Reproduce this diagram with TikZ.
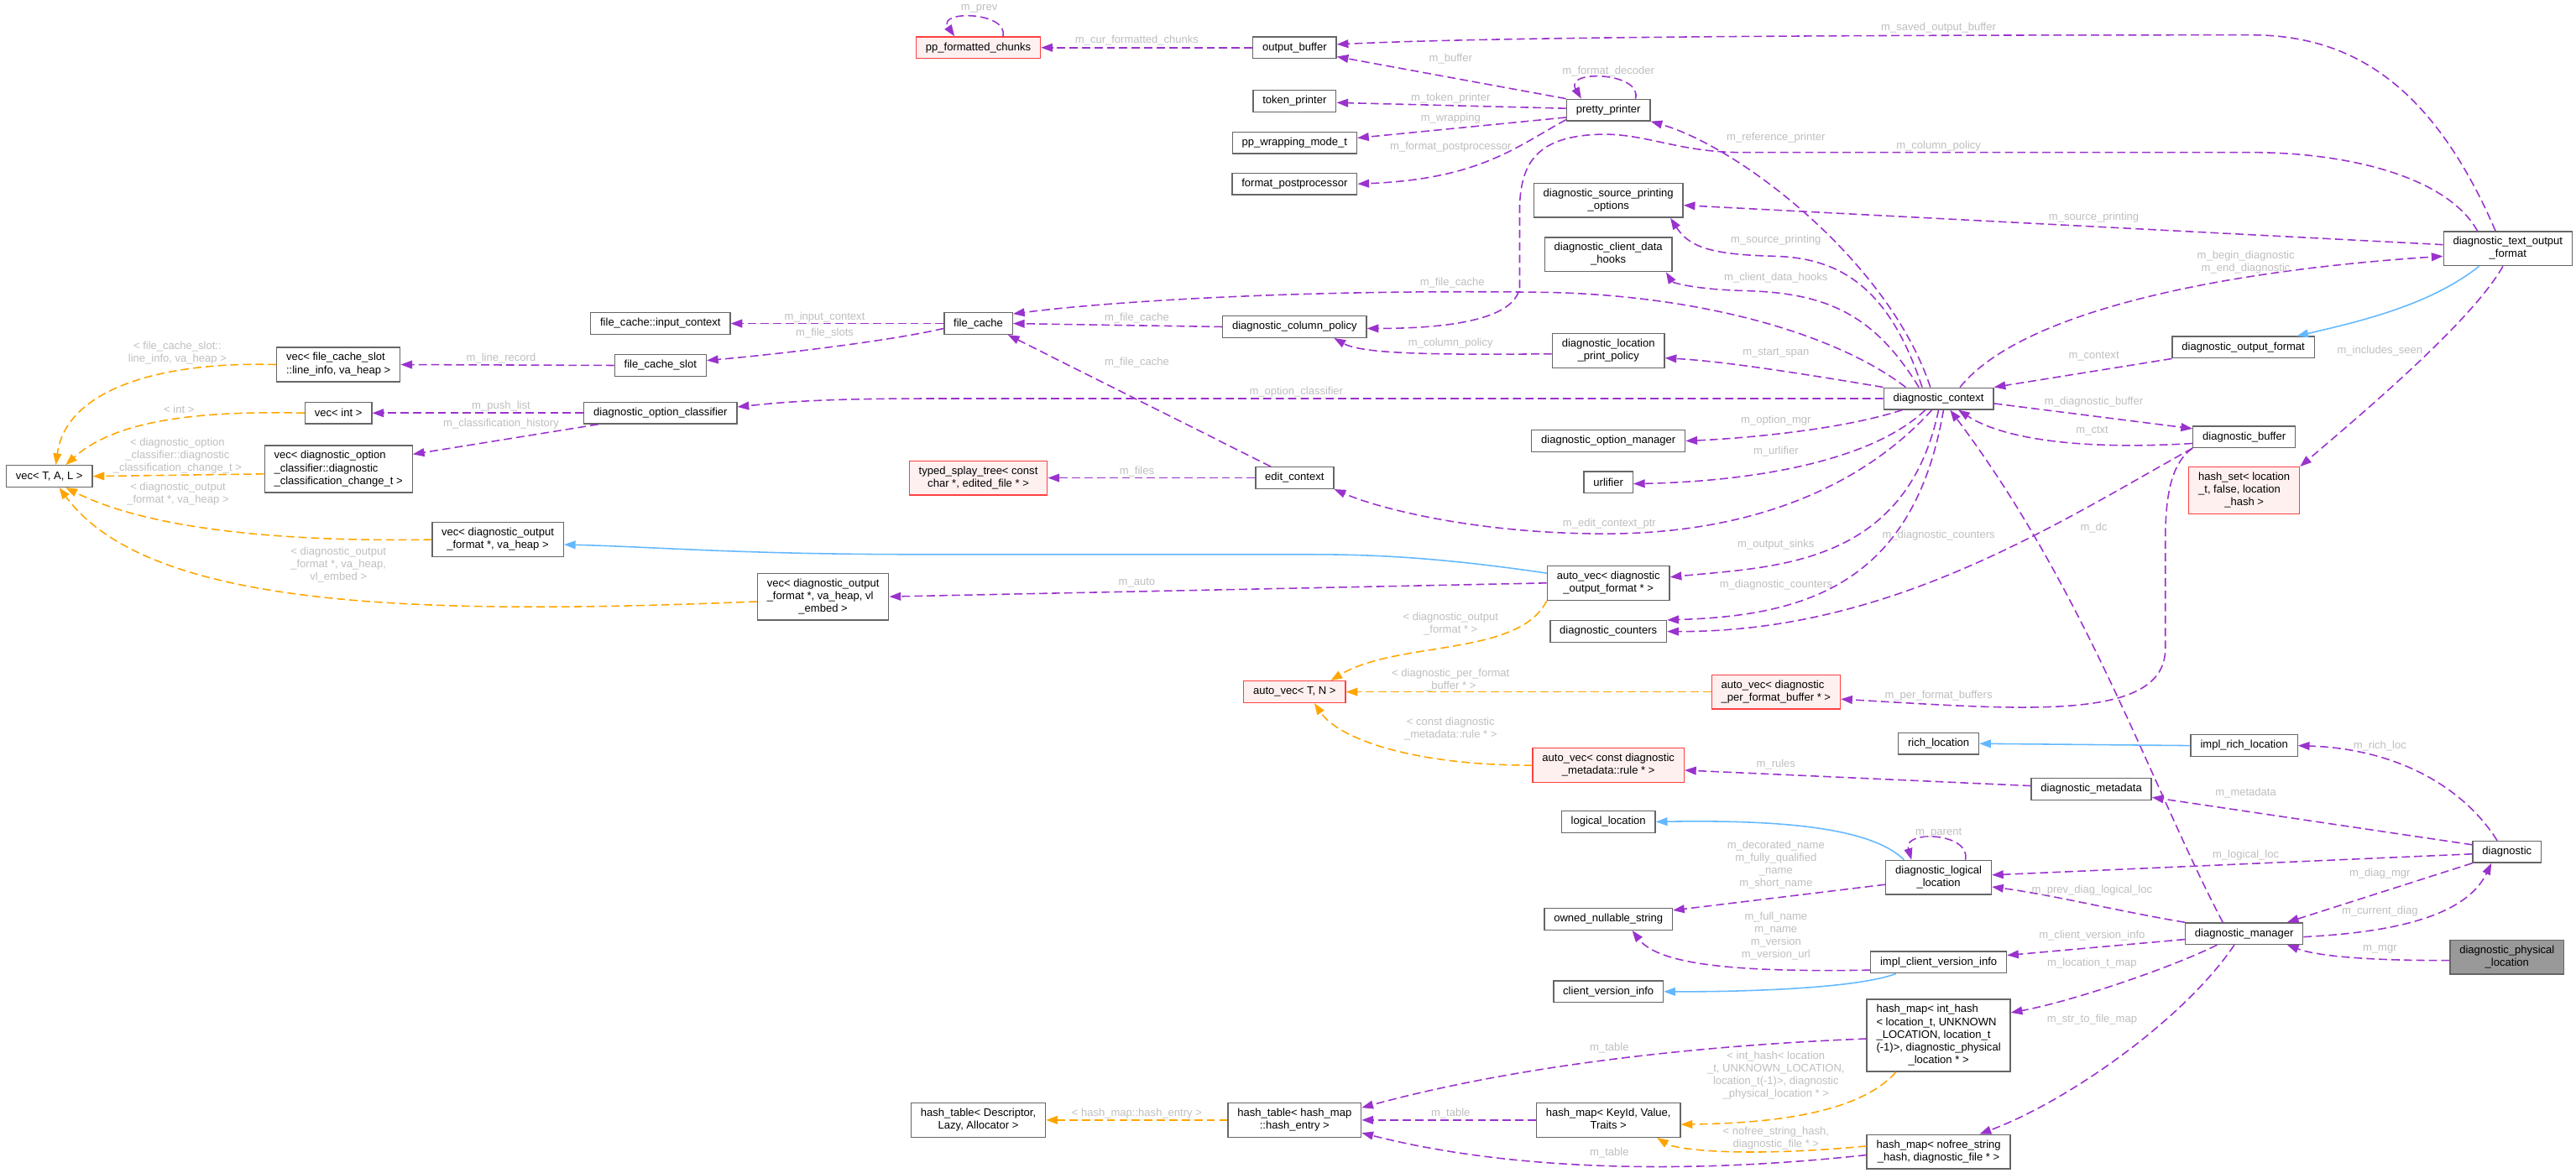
\documentclass[tikz,border=0pt]{standalone}
\usepackage{fontspec}
\setmainfont{Liberation Sans}
\usetikzlibrary{
		arrows.meta
	}
\definecolor{usepurple}{HTML}{9A32CD}
\definecolor{tmplorange}{HTML}{FFA500}
\definecolor{inheritblue}{HTML}{63B8FF}
\definecolor{boxgray}{HTML}{666666}
\definecolor{labelgray}{HTML}{BEBEBE}
\definecolor{truncred}{HTML}{FF4040}
\definecolor{truncfill}{HTML}{FFF0F0}
\definecolor{maingray}{HTML}{999999}
\newcommand{\graphfont}{\fontsize{6.66}{7.7}\selectfont}
\newcommand{\classlines}[2]{\begin{tabular}{@{}l@{}}#1\\\multicolumn{1}{@{}c@{}}{#2}\end{tabular}}
\tikzset{
		>={Triangle[length=7pt,width=5pt]},
		cls/.style={draw=boxgray, fill=white, line width=0.7pt, inner xsep=5.8pt, inner ysep=2.7pt, minimum height=13.1pt},
		trunc/.style={cls, draw=truncred, fill=truncfill},
		mainnode/.style={cls, fill=maingray},
		uses/.style={->, draw=usepurple, line width=0.8pt, dash pattern=on 5pt off 2.6pt},
		tmpl/.style={uses, draw=tmplorange},
		inherits/.style={->, draw=inheritblue, line width=0.8pt},
		elabel/.style={text=labelgray, align=center, inner sep=0pt}
	}

\begin{document}
\begin{tikzpicture}[x=1pt, y=-1pt, font=\graphfont]
		\useasboundingbox (0,0) rectangle (1568,714);
		\node[trunc] (ppchunks) at (595.5,29) {pp\_formatted\_chunks};
		\node[cls] (outbuf) at (788,29) {output\_buffer}; \node[cls] (tokprinter) at (788,61.5) {token\_printer};
		\node[cls] (wrapmode) at (788,87) {pp\_wrapping\_mode\_t}; \node[cls] (postproc) at (788,112) {format\_postprocessor};
		\node[cls] (prettyprinter) at (979,67) {pretty\_printer};
		\node[cls] (srcprintopts) at (979,122) {\classlines{diagnostic\_source\_printing}{\_options}};
		\node[cls] (clienthooks) at (979,155) {\classlines{diagnostic\_client\_data}{\_hooks}};
		\node[cls] (inputctx) at (402,197) {file\_cache::input\_context}; \node[cls] (filecache) at (595.5,197) {file\_cache};
		\node[cls] (colpolicy) at (788,199) {diagnostic\_column\_policy};
		\node[cls] (vecslot) at (206,222) {\classlines{vec< file\_cache\_slot}{::line\_info, va\_heap >}};
		\node[cls] (cacheslot) at (402,222.5) {file\_cache\_slot};
		\node[cls] (locpolicy) at (979,213.5) {\classlines{diagnostic\_location}{\_print\_policy}};
		\node[cls] (vecint) at (206,251.5) {vec< int >}; \node[cls] (optclassifier) at (402,251.5) {diagnostic\_option\_classifier};
		\node[cls] (vectal) at (30,290) {vec< T, A, L >};
		\node[cls] (vecchange) at (206,285.6) {\classlines{vec< diagnostic\_option\\\_classifier::diagnostic}{\_classification\_change\_t >}};
		\node[cls] (dcontext) at (1180,242.7) {diagnostic\_context};
		\node[cls] (optmanager) at (979,268.5) {diagnostic\_option\_manager};
		\node[trunc] (splaytree) at (595.5,291) {\classlines{typed\_splay\_tree< const}{char *, edited\_file * >}};
		\node[cls] (editctx) at (788,291) {edit\_context}; \node[cls] (urlifier) at (979,293.6) {urlifier};
		\node[cls] (diagbuffer) at (1366,266) {diagnostic\_buffer};
		\node[trunc] (hashset) at (1366,298.7) {\classlines{hash\_set< location\\\_t, false, location}{\_hash >}};
		\node[cls] (vecformat) at (303,328.6) {\classlines{vec< diagnostic\_output}{\_format *, va\_heap >}};
		\node[cls] (autovecformat) at (979,355) {\classlines{auto\_vec< diagnostic}{\_output\_format * >}};
		\node[cls] (vecembed) at (501,363.3) {\classlines{vec< diagnostic\_output\\\_format *, va\_heap, vl}{\_embed >}};
		\node[cls] (counters) at (979,384.5) {diagnostic\_counters};
		\node[trunc] (autovectn) at (788,421.3) {auto\_vec< T, N >};
		\node[trunc] (autovecbuf) at (1081,421.3) {\classlines{auto\_vec< diagnostic}{\_per\_format\_buffer * >}};
		\node[cls] (richloc) at (1180,452.8) {rich\_location}; \node[cls] (implrichloc) at (1366,454) {impl\_rich\_location};
		\node[trunc] (autovecrule) at (979,466) {\classlines{auto\_vec< const diagnostic}{\_metadata::rule * >}};
		\node[cls] (metadata) at (1273,480.5) {diagnostic\_metadata};
		\node[cls] (logloc) at (979,500.4) {logical\_location};
		\node[cls] (diagnostic) at (1526,518.7) {diagnostic};
		\node[cls] (diaglogloc) at (1180,534.3) {\classlines{diagnostic\_logical}{\_location}};
		\node[cls] (nullstring) at (979,559.7) {owned\_nullable\_string};
		\node[cls] (diagmanager) at (1366,568.5) {diagnostic\_manager};
		\node[mainnode] (physloc) at (1526,582.8) {\classlines{diagnostic\_physical}{\_location}};
		\node[cls] (implversion) at (1180,586) {impl\_client\_version\_info};
		\node[cls] (versioninfo) at (979,603.8) {client\_version\_info};
		\node[cls] (maplocation) at (1180,630.5) {\classlines{hash\_map< int\_hash\\< location\_t, UNKNOWN\\\_LOCATION, location\_t\\(-1)>, diagnostic\_physical}{\_location * >}};
		\node[cls] (tabledesc) at (595.5,682) {\classlines{hash\_table< Descriptor,}{Lazy, Allocator >}};
		\node[cls] (tableentry) at (788,682) {\classlines{hash\_table< hash\_map}{::hash\_entry >}};
		\node[cls] (mapkey) at (979,682) {\classlines{hash\_map< KeyId, Value,}{Traits >}};
		\node[cls] (mapfile) at (1180,701.3) {\classlines{hash\_map< nofree\_string}{\_hash, diagnostic\_file * >}};
		\node[cls] (textformat) at (1526.5,151.4) {\classlines{diagnostic\_text\_output}{\_format}};
		\node[cls] (outformat) at (1365.5,211.5) {diagnostic\_output\_format};

		\draw[uses] ([xshift=15]ppchunks.north) .. controls (614,7) and (570,6) .. ([xshift=-14.5]ppchunks.north);
		\draw[uses] (outbuf) -- (ppchunks);
		\draw[uses] ([xshift=-7.5]textformat.north) .. controls (1480,50) and (1430,21.3) .. (1370,21.3) .. controls (1000,21.3) and (880,24) .. ([yshift=2]outbuf.east);
		\draw[uses] (prettyprinter.north west) -- ([yshift=1.4]outbuf.south east);
		\draw[uses] ([yshift=1]prettyprinter.west) -- ([yshift=-1]tokprinter.east);
		\draw[uses] ([yshift=-4.5]prettyprinter.west) -- ([yshift=3]wrapmode.east);
		\draw[uses] ([yshift=1]prettyprinter.south west) .. controls (922,90) and (900,109) .. (postproc.east);
		\draw[uses] ([xshift=16.5]prettyprinter.north) .. controls (1000,44) and (952,42) .. ([xshift=-16.5]prettyprinter.north);
		\draw[uses] ([xshift=-5]dcontext.north) .. controls (1150,160) and (1060,90) .. (prettyprinter.south east);
		\draw[uses] ([xshift=-18.5]textformat.north) .. controls (1490,108) and (1430,92.8) .. (1370,92.8) -- (1060,92.8) .. controls (1020,92.8) and (1000,80) .. (970,82) .. controls (935,84) and (926,100) .. (925,125) -- (925,175) .. controls (922,195) and (880,200) .. ([yshift=-1]colpolicy.east);
		\draw[uses] ([yshift=2.4]textformat.west) -- ([yshift=-3]srcprintopts.east);
		\draw[uses] ([xshift=-10]dcontext.north) .. controls (1150,175) and (1120,157) .. (1080,156) .. controls (1040,155) and (1028,150) .. ([xshift=-8]srcprintopts.south east);
		\draw[uses] ([xshift=-12]dcontext.north) .. controls (1140,190) and (1110,178) .. (1060,177) .. controls (1030,176) and (1018,172) .. ([xshift=-4]clienthooks.south east);
		\draw[uses] ([xshift=-20]dcontext.north) .. controls (1120,205) and (1040,180) .. (941,178) .. controls (800,176) and (680,183) .. ([yshift=-1]filecache.north east);
		\draw[uses] (colpolicy.west) -- (filecache.east);
		\draw[uses] ([xshift=-14.5]editctx.north) -- ([xshift=18]filecache.south);
		\draw[uses] ([yshift=-2]locpolicy.west) .. controls (880,216) and (830,216) .. ([xshift=24]colpolicy.south);
		\draw[uses] (dcontext.north west) .. controls (1100,228) and (1050,220) .. ([yshift=-4.5]locpolicy.east);
		\draw[uses] (dcontext.west) -- (562,242.7) .. controls (500,242.7) and (475,245) .. ([yshift=3.7]optclassifier.east);
		\draw[uses] (filecache.west) -- (inputctx.east);
		\draw[uses] ([yshift=-3]filecache.west) .. controls (540,208) and (470,216) .. ([yshift=3]cacheslot.east);
		\draw[uses] (cacheslot.west) -- (vecslot.east);
		\draw[uses] (optclassifier.west) -- (vecint.east);
		\draw[uses] ([xshift=9]optclassifier.south west) -- ([yshift=9]vecchange.east);
		\draw[tmpl] (vecslot.west) .. controls (95,220) and (40,238) .. ([xshift=4]vectal.north);
		\draw[tmpl] (vecint.west) .. controls (120,250) and (70,256) .. ([xshift=10]vectal.north);
		\draw[tmpl] ([yshift=-3]vecchange.west) -- (vectal.east);
		\draw[tmpl] (vecformat.west) .. controls (170,330) and (90,322) .. ([xshift=10]vectal.south);
		\draw[tmpl] ([yshift=-3]vecembed.west) .. controls (250,375) and (90,370) .. ([xshift=6]vectal.south);
		\draw[inherits] ([yshift=6]autovecformat.west) .. controls (880,340) and (840,337.6) .. (797.6,337.6) -- (562,337.6) .. controls (450,337.6) and (400,333) .. ([yshift=-3]vecformat.east);
		\draw[uses] (autovecformat.west) -- (vecembed.east);
		\draw[tmpl] (autovecformat.south west) .. controls (925,400) and (850,390) .. ([xshift=22]autovectn.north);
		\draw[tmpl] (autovecbuf.west) -- (autovectn.east);
		\draw[tmpl] (autovecrule.west) .. controls (860,466) and (815,450) .. ([xshift=12]autovectn.south);
		\draw[uses] (editctx.west) -- (splaytree.east);
		\draw[uses] ([xshift=-22]dcontext.south) .. controls (1120,262) and (1060,267) .. (optmanager.east);
		\draw[uses] ([xshift=-8]dcontext.south) .. controls (1140,280) and (1070,293) .. ([yshift=-1]urlifier.east);
		\draw[uses] ([xshift=-4]dcontext.south) .. controls (1130,300) and (1060,325) .. (977,325) .. controls (900,325) and (840,310) .. (editctx.south east);
		\draw[uses] (dcontext.south) .. controls (1160,345) and (1080,345) .. ([yshift=3.6]autovecformat.east);
		\draw[uses] ([xshift=3]dcontext.south) .. controls (1165,355) and (1100,375) .. ([yshift=7]counters.east);
		\draw[uses] (diagbuffer.south west) .. controls (1250,320) and (1150,385) .. (counters.east);
		\draw[uses] ([yshift=-4]diagbuffer.west) .. controls (1270,274) and (1220,268) .. ([xshift=12]dcontext.south);
		\draw[uses] ([yshift=-3]dcontext.east) -- ([yshift=5]diagbuffer.west);
		\draw[uses] (outformat.south west) -- (dcontext.north east);
		\draw[inherits] ([xshift=-17.5]textformat.south) .. controls (1480,185) and (1440,195) .. ([xshift=-11]outformat.north east);
		\draw[uses] ([xshift=13]dcontext.north) .. controls (1230,190) and (1350,165) .. ([yshift=-4.6]textformat.west);
		\draw[uses] ([xshift=-3]textformat.south) .. controls (1505,195) and (1440,250) .. (hashset.north east);
		\draw[uses] (diagbuffer.south west) .. controls (1322,282) and (1318,300) .. (1318,330) -- (1318,395) .. controls (1318,440) and (1230,432) .. ([yshift=-4.4]autovecbuf.east);
		\draw[uses] ([xshift=-13]diagmanager.north) .. controls (1310,480) and (1270,360) .. ([xshift=7]dcontext.south);
		\draw[inherits] (implrichloc.west) -- (richloc.east);
		\draw[uses] ([xshift=-6]diagnostic.north) .. controls (1500,480) and (1460,456) .. (implrichloc.east);
		\draw[uses] ([yshift=2]metadata.west) -- ([yshift=-3]autovecrule.east);
		\draw[uses] ([yshift=4.3]diagnostic.west) -- ([yshift=-5]metadata.east);
		\draw[inherits] ([xshift=-21]diaglogloc.north) .. controls (1140,505) and (1090,499) .. (logloc.east);
		\draw[uses] ([xshift=16.3]diaglogloc.north) .. controls (1200,507) and (1158,505) .. ([xshift=-16.5]diaglogloc.north);
		\draw[uses] ([yshift=-4.3]diaglogloc.west) -- ([yshift=-1.5]nullstring.north east);
		\draw[uses] ([yshift=-1.3]diagnostic.west) -- ([yshift=1.5]diaglogloc.east);
		\draw[uses] (diagmanager.north west) .. controls (1290,555) and (1250,545) .. ([yshift=-5.7]diaglogloc.east);
		\draw[uses] (diagnostic.south west) -- ([xshift=-10]diagmanager.north east);
		\draw[uses] ([yshift=-2]diagmanager.east) .. controls (1450,568) and (1500,560) .. ([xshift=-9.5]diagnostic.south);
		\draw[uses] ([yshift=-2]physloc.west) .. controls (1440,585) and (1410,582) .. ([xshift=-10]diagmanager.south east);
		\draw[uses] ([yshift=-3.5]diagmanager.west) -- ([yshift=4.3]implversion.east);
		\draw[uses] ([yshift=-4.7]implversion.west) .. controls (1060,592) and (1010,588) .. ([xshift=14.5]nullstring.south);
		\draw[inherits] ([xshift=-26]implversion.south) .. controls (1130,602) and (1060,604) .. (versioninfo.east);
		\draw[uses] ([xshift=-16.5]diagmanager.south) .. controls (1320,590) and (1260,610) .. ([yshift=-8.4]maplocation.north east);
		\draw[uses] ([xshift=-6]diagmanager.south) .. controls (1330,620) and (1260,670) .. ([xshift=25]mapfile.north);
		\draw[uses] ([yshift=-2]maplocation.west) .. controls (1000,638) and (900,655) .. ([yshift=7.5]tableentry.east);
		\draw[uses] (mapkey.west) -- (tableentry.east);
		\draw[uses] ([yshift=-2]mapfile.west) .. controls (1000,718) and (900,708) .. ([yshift=-7.8]tableentry.east);
		\draw[tmpl] (tableentry.west) -- (tabledesc.east);
		\draw[tmpl] ([xshift=-26]maplocation.south) .. controls (1130,680) and (1070,684) .. ([yshift=-2.7]mapkey.east);
		\draw[tmpl] ([yshift=3.4]mapfile.west) .. controls (1060,705) and (1020,700) .. ([xshift=-14.5]mapkey.south east);

		\node[elabel] (lprev) at (596,5.5) {m\_prev}; \node[elabel] (lcurchunks) at (692,24.5) {m\_cur\_formatted\_chunks};
		\node[elabel] (lsavedbuf) at (1180,17) {m\_saved\_output\_buffer}; \node[elabel] (lbuffer) at (883,36) {m\_buffer};
		\node[elabel] (ldecoder) at (979,43.5) {m\_format\_decoder}; \node[elabel] (ltokprinter) at (883,59.6) {m\_token\_printer};
		\node[elabel] (lwrapping) at (883,72) {m\_wrapping}; \node[elabel] (lpostproc) at (883,89.4) {m\_format\_postprocessor};
		\node[elabel] (lrefprinter) at (1081,84) {m\_reference\_printer}; \node[elabel] (lcolpolicy) at (1180,89) {m\_column\_policy};
		\node[elabel] (lsrcprint) at (1274.5,132.5) {m\_source\_printing}; \node[elabel] (lsrcprintdc) at (1081,146) {m\_source\_printing};
		\node[elabel] (lbegin) at (1367,159.5) {m\_begin\_diagnostic\\m\_end\_diagnostic};
		\node[elabel] (lhooks) at (1081,169) {m\_client\_data\_hooks}; \node[elabel] (lfilecachedc) at (884,172) {m\_file\_cache};
		\node[elabel] (linputctx) at (502,193) {m\_input\_context}; \node[elabel] (lfileslots) at (502,203) {m\_file\_slots};
		\node[elabel] (lfilecachecol) at (692,193.7) {m\_file\_cache}; \node[elabel] (lfilecacheedit) at (692,221) {m\_file\_cache};
		\node[elabel] (lcolpolicyloc) at (883,209) {m\_column\_policy}; \node[elabel] (lstartspan) at (1081,215) {m\_start\_span};
		\node[elabel] (lcontext) at (1274.5,217) {m\_context}; \node[elabel] (lincludes) at (1448.6,213.4) {m\_includes\_seen};
		\node[elabel] (llinerecord) at (305,218) {m\_line\_record};
		\node[elabel] (ltmplslot) at (108,214.8) {< file\_cache\_slot::\\line\_info, va\_heap >};
		\node[elabel] (loptclassifier) at (789,238.5) {m\_option\_classifier}; \node[elabel] (ldiagbuffer) at (1274.5,244.8) {m\_diagnostic\_buffer};
		\node[elabel] (lpushlist) at (305,247.5) {m\_push\_list}; \node[elabel] (ltmplint) at (109,249) {< int >};
		\node[elabel] (lhistory) at (305,258) {m\_classification\_history}; \node[elabel] (loptmgr) at (1081,256) {m\_option\_mgr};
		\node[elabel] (lctxt) at (1273.5,262.6) {m\_ctxt}; \node[elabel] (lurlifier) at (1081,274.7) {m\_urlifier};
		\node[elabel] (ltmplchange) at (108,277.6) {< diagnostic\_option\\\_classifier::diagnostic\\\_classification\_change\_t >};
		\node[elabel] (lfiles) at (692,287) {m\_files};
		\node[elabel] (ltmplformat) at (108.3,300.6) {< diagnostic\_output\\\_format *, va\_heap >};
		\node[elabel] (leditctx) at (979.6,318.8) {m\_edit\_context\_ptr}; \node[elabel] (ldc) at (1274.5,321.5) {m\_dc};
		\node[elabel] (lcounterbuf) at (1180,326) {m\_diagnostic\_counters}; \node[elabel] (lsinks) at (1081,331.6) {m\_output\_sinks};
		\node[elabel] (ltmplembed) at (206,343.7) {< diagnostic\_output\\\_format *, va\_heap,\\vl\_embed >};
		\node[elabel] (lauto) at (692,355) {m\_auto}; \node[elabel] (lcounterdc) at (1081,356) {m\_diagnostic\_counters};
		\node[elabel] (ltmplautoformat) at (883,380) {< diagnostic\_output\\\_format * >};
		\node[elabel] (ltmplperformat) at (883,414) {< diagnostic\_per\_format\\\_buffer * >};
		\node[elabel] (lperformat) at (1180,423.6) {m\_per\_format\_buffers};
		\node[elabel] (ltmplrule) at (883,443.6) {< const diagnostic\\\_metadata::rule * >};
		\node[elabel] (lrichloc) at (1448.6,454) {m\_rich\_loc}; \node[elabel] (lrules) at (1081,465.5) {m\_rules};
		\node[elabel] (lmetadata) at (1367,483) {m\_metadata}; \node[elabel] (lparent) at (1180,507) {m\_parent};
		\node[elabel] (lnames) at (1081,526.6) {m\_decorated\_name\\m\_fully\_qualified\\\_name\\m\_short\_name};
		\node[elabel] (llogicalloc) at (1367,520.7) {m\_logical\_loc}; \node[elabel] (ldiagmgr) at (1448.6,532) {m\_diag\_mgr};
		\node[elabel] (lprevloc) at (1273.4,542) {m\_prev\_diag\_logical\_loc}; \node[elabel] (lcurrentdiag) at (1448.6,555) {m\_current\_diag};
		\node[elabel] (lversioninfo) at (1273.4,569.7) {m\_client\_version\_info};
		\node[elabel] (lversionnames) at (1081,570) {m\_full\_name\\m\_name\\m\_version\\m\_version\_url};
		\node[elabel] (lmgr) at (1448.6,578) {m\_mgr}; \node[elabel] (llocationmap) at (1273.4,586.8) {m\_location\_t\_map};
		\node[elabel] (lfilemap) at (1273.4,620.8) {m\_str\_to\_file\_map}; \node[elabel] (ltablemaploc) at (979.6,638) {m\_table};
		\node[elabel] (ltmplinthash) at (1081,654.6) {< int\_hash< location\\\_t, UNKNOWN\_LOCATION,\\location\_t(-1)>, diagnostic\\\_physical\_location * >};
		\node[elabel] (ltmplentry) at (692,678) {< hash\_map::hash\_entry >}; \node[elabel] (ltablekey) at (883,678) {m\_table};
		\node[elabel] (ltmplnofree) at (1081,693) {< nofree\_string\_hash,\\diagnostic\_file * >};
		\node[elabel] (ltablefile) at (979.6,701.8) {m\_table};
	\end{tikzpicture}
\end{document}
